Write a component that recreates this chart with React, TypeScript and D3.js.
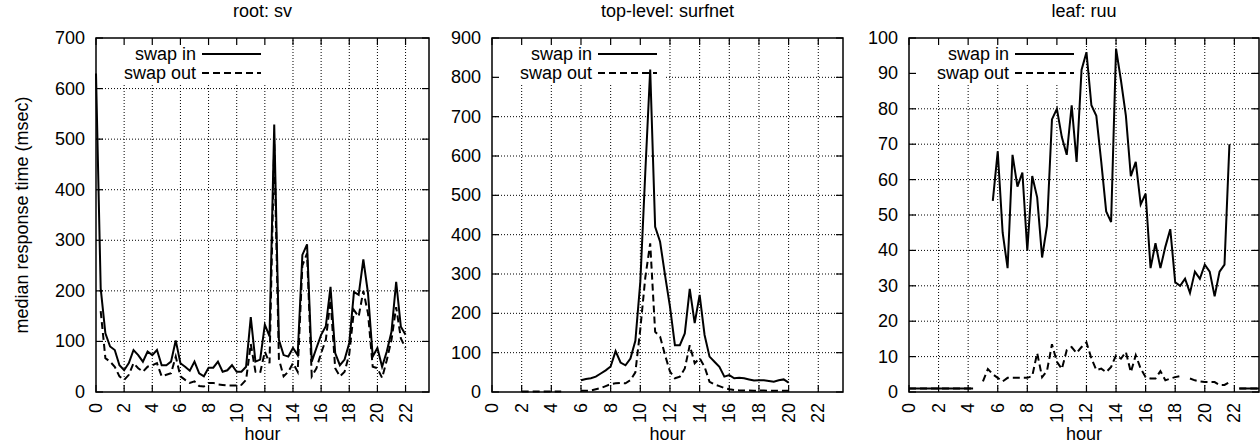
import { useEffect, useRef } from 'react';
import * as d3 from 'd3';

const _ = null;

// 20-minute bins: 3 per hour, 72 per day
const binsPerHour = 3;
const lastBin = 71;
const hourTicks = [0, 2, 4, 6, 8, 10, 12, 14, 16, 18, 20, 22];

const svTicks = [0, 100, 200, 300, 400, 500, 600, 700];
const surfnetTicks = [0, 100, 200, 300, 400, 500, 600, 700, 800, 900];
const ruuTicks = [0, 10, 20, 30, 40, 50, 60, 70, 80, 90, 100];

const svSwapIn = [
  630, 205, 116, 90, 83, 53, 43, 57, 83, 73, 60, 80,
  73, 83, 53, 53, 60, 102, 57, 50, 42, 60, 37, 31,
  48, 48, 60, 40, 43, 53, 40, 40, 50, 148, 60, 64,
  133, 110, 529, 103, 73, 70, 87, 73, 271, 292, 60, 87,
  113, 130, 208, 77, 53, 64, 97, 198, 192, 262, 195, 70,
  87, 50, 80, 119, 218, 129, 113, _, _, _, _, _,
];
const svSwapOut = [
  _, 160, 67, 60, 50, 31, 24, 34, 57, 47, 40, 50,
  53, 57, 31, 34, 37, 70, 31, 24, 18, 21, 12, 11,
  18, 18, 15, 14, 13, 13, 13, 14, 24, 95, 40, 38,
  80, 57, 490, 65, 31, 40, 57, 40, 250, 274, 31, 47,
  77, 103, 182, 47, 31, 40, 75, 162, 149, 200, 155, 50,
  47, 28, 63, 103, 168, 106, 87, _, _, _, _, _,
];

const surfnetSwapIn = [
  _, _, _, _, _, _, _, _, _, _, _, _,
  _, _, _, _, _, _, 30, 33, 35, 39, 47, 55,
  65, 104, 75, 68, 85, 130, 280, 556, 820, 420, 382, 297,
  217, 119, 119, 149, 262, 175, 247, 145, 90, 77, 64, 39,
  43, 35, 36, 35, 32, 29, 30, 30, 28, 26, 30, 32,
  24, _, _, _, _, _, _, _, _, _, _, _,
];
const surfnetSwapOut = [
  _, _, _, _, _, _, 1, 1, 1, 1, 1, 1,
  1, 1, 1, _, _, _, 3, 3, 4, 7, 10, 15,
  20, 22, 23, 22, 30, 50, 160, 290, 378, 153, 141, 94,
  52, 35, 39, 60, 119, 73, 86, 64, 26, 19, 15, 10,
  7, 5, 4, 4, 4, 3, 4, 4, 3, 3, 3, 3,
  3, _, _, _, _, _, _, _, _, _, _, _,
];

const ruuSwapIn = [
  1, 1, 1, 1, 1, 1, 1, 1, 1, 1, 1, 1,
  1, 1, _, _, _, 54, 68, 45, 35, 67, 58, 62,
  40, 61, 55, 38, 47, 77, 80, 72, 67, 81, 65, 91,
  96, 81, 78, 65, 51, 48, 97, 88, 78, 61, 65, 53,
  56, 35, 42, 35, 41, 46, 31, 30, 32, 28, 34, 32,
  36, 34, 27, 34, 36, 70, _, 1, 1, 1, 1, 1,
];
const ruuSwapOut = [
  1, 1, 1, 1, 1, 1, 1, 1, 1, 1, 1, 1,
  1, 1, _, 3, 6.5, 5, 4, 3, 4, 4, 4, 4,
  4, 4.5, 11, 4.2, 6, 13.5, 8.5, 6.5, 11.8, 12.7, 11, 12.7,
  14, 9.5, 6.2, 6.6, 5.6, 7.1, 10.4, 9.4, 11.3, 5.6, 10.4, 6.6,
  4.2, 3.8, 3.8, 5.9, 3.3, 3.8, 4.2, 4.5, _, 3.8, 3.3, 3,
  2.8, 2.8, 2.8, 2, 2, 2.8, _, 1, 1, 1, 1, 1,
];

const panels = [
  { title: 'root: sv', left: 96, right: 429, ticks: svTicks, swapIn: svSwapIn, swapOut: svSwapOut },
  { title: 'top-level: surfnet', left: 492, right: 843, ticks: surfnetTicks, swapIn: surfnetSwapIn, swapOut: surfnetSwapOut },
  { title: 'leaf: ruu', left: 909, right: 1259, ticks: ruuTicks, swapIn: ruuSwapIn, swapOut: ruuSwapOut },
];

const WIDTH = 1260;
const HEIGHT = 444;
const TOP = 38;
const BOTTOM = 392;
const FONT = '"Liberation Sans", Arial, Helvetica, sans-serif';

export default function App() {
  const svgRef = useRef<SVGSVGElement | null>(null);

  useEffect(() => {
    if (!svgRef.current) return;
    const svg = d3.select(svgRef.current);
    svg.selectAll('*').remove();
    svg.attr('width', WIDTH).attr('height', HEIGHT)
      .style('font-family', FONT).style('font-size', '18px');

    svg.append('rect').attr('width', WIDTH).attr('height', HEIGHT).attr('fill', '#fff');

    // y label, only on the first panel
    svg.append('text')
      .attr('transform', `translate(22,${(TOP + BOTTOM) / 2}) rotate(-90)`)
      .attr('text-anchor', 'middle')
      .attr('dominant-baseline', 'central')
      .text('median response time (msec)');

    panels.forEach((p) => {
      const g = svg.append('g');
      const yMax = p.ticks[p.ticks.length - 1];
      const x = d3.scaleLinear().domain([0, lastBin / binsPerHour]).range([p.left, p.right]);
      const y = d3.scaleLinear().domain([0, yMax]).range([BOTTOM, TOP]);

      // grid
      g.selectAll('.gx').data(hourTicks.slice(1)).enter().append('line')
        .attr('x1', (d) => x(d)).attr('x2', (d) => x(d))
        .attr('y1', BOTTOM).attr('y2', TOP)
        .attr('stroke', '#000').attr('stroke-width', 1).attr('stroke-dasharray', '1,2');
      g.selectAll('.gy').data(p.ticks.slice(1, -1)).enter().append('line')
        .attr('x1', p.left).attr('x2', p.right)
        .attr('y1', (d) => y(d)).attr('y2', (d) => y(d))
        .attr('stroke', '#000').attr('stroke-width', 1).attr('stroke-dasharray', '1,2');

      // opaque key box
      g.append('rect')
        .attr('x', p.left + 1).attr('y', TOP + 1)
        .attr('width', 171).attr('height', 46)
        .attr('fill', '#fff');

      // series
      const line = d3.line<number | null>()
        .defined((d) => d !== null)
        .x((_d, i) => x(i / binsPerHour))
        .y((d) => y(d as number));

      g.append('path').datum(p.swapOut)
        .attr('fill', 'none').attr('stroke', '#000').attr('stroke-width', 2)
        .attr('stroke-dasharray', '7,4').attr('d', line);
      g.append('path').datum(p.swapIn)
        .attr('fill', 'none').attr('stroke', '#000').attr('stroke-width', 2)
        .attr('d', line);

      // key
      const keyRows = [
        { label: 'swap in', dash: null, y: TOP + 16 },
        { label: 'swap out', dash: '7,4', y: TOP + 35 },
      ];
      keyRows.forEach((k) => {
        g.append('text')
          .attr('x', p.left + 100).attr('y', k.y)
          .attr('text-anchor', 'end').attr('dominant-baseline', 'central')
          .text(k.label);
        g.append('line')
          .attr('x1', p.left + 106).attr('x2', p.left + 165)
          .attr('y1', k.y).attr('y2', k.y)
          .attr('stroke', '#000').attr('stroke-width', 2)
          .attr('stroke-dasharray', k.dash);
      });

      // border
      g.append('rect')
        .attr('x', p.left).attr('y', TOP)
        .attr('width', p.right - p.left).attr('height', BOTTOM - TOP)
        .attr('fill', 'none').attr('stroke', '#000').attr('stroke-width', 1.5);

      // ticks (mirrored)
      const tl = 7;
      hourTicks.forEach((h) => {
        g.append('line').attr('x1', x(h)).attr('x2', x(h)).attr('y1', BOTTOM).attr('y2', BOTTOM - tl)
          .attr('stroke', '#000').attr('stroke-width', 1.2);
        g.append('line').attr('x1', x(h)).attr('x2', x(h)).attr('y1', TOP).attr('y2', TOP + tl)
          .attr('stroke', '#000').attr('stroke-width', 1.2);
        g.append('text')
          .attr('transform', `translate(${x(h)},${BOTTOM + 11}) rotate(-90)`)
          .attr('text-anchor', 'end').attr('dominant-baseline', 'central')
          .text(h);
      });
      p.ticks.forEach((t) => {
        g.append('line').attr('x1', p.left).attr('x2', p.left + tl).attr('y1', y(t)).attr('y2', y(t))
          .attr('stroke', '#000').attr('stroke-width', 1.2);
        g.append('line').attr('x1', p.right).attr('x2', p.right - tl).attr('y1', y(t)).attr('y2', y(t))
          .attr('stroke', '#000').attr('stroke-width', 1.2);
        g.append('text')
          .attr('x', p.left - 11).attr('y', y(t))
          .attr('text-anchor', 'end').attr('dominant-baseline', 'central')
          .text(t);
      });

      // titles
      g.append('text')
        .attr('x', (p.left + p.right) / 2).attr('y', 17)
        .attr('text-anchor', 'middle')
        .text(p.title);
      g.append('text')
        .attr('x', (p.left + p.right) / 2).attr('y', 440)
        .attr('text-anchor', 'middle')
        .text('hour');
    });
  }, []);

  return (
    <svg ref={svgRef} style={{ position: 'absolute', left: 0, top: 0, display: 'block' }}></svg>
  );
}
